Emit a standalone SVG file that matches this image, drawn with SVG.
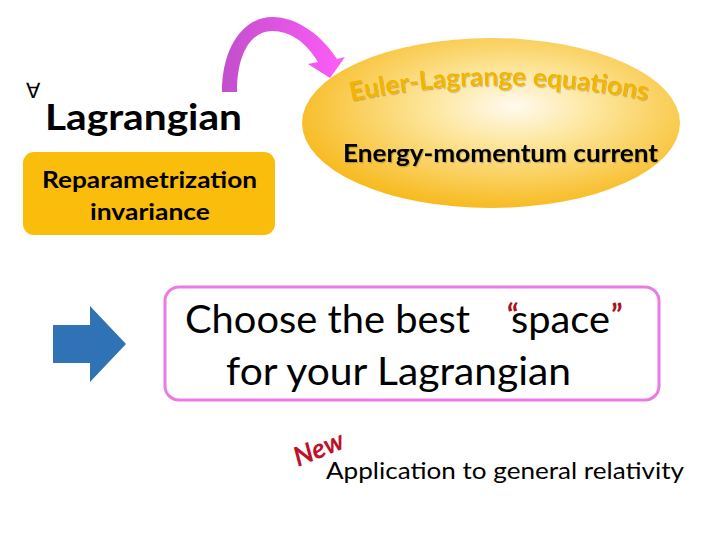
<svg xmlns="http://www.w3.org/2000/svg" width="720" height="540" viewBox="0 0 720 540">
<style>
.t{font-family:Lato,"Open Sans","Liberation Sans",sans-serif;fill:#000}
.b{font-weight:bold}
</style>
<defs>
<radialGradient id="eg" cx="0.55" cy="0.42" r="0.6" fx="0.56" fy="0.4">
<stop offset="0" stop-color="#fffaf0"/>
<stop offset="0.35" stop-color="#fde7a0"/>
<stop offset="1" stop-color="#f7b91c"/>
</radialGradient>
<linearGradient id="ag" x1="0" y1="0" x2="1" y2="0">
<stop offset="0" stop-color="#c24fcc"/>
<stop offset="1" stop-color="#ff5cf8"/>
</linearGradient>
<filter id="sh" x="-5%" y="-20%" width="110%" height="150%">
<feDropShadow dx="1" dy="1.2" stdDeviation="0.7" flood-color="#000" flood-opacity="0.22"/>
</filter>
<path id="arc" d="M351,101 Q500,70 650,101"/>
</defs>
<g id="ellipse-node">
<ellipse cx="491" cy="123" rx="189" ry="85" fill="url(#eg)"/>
<text class="t b" font-size="26" style="fill:#f2b400" filter="url(#sh)"><textPath href="#arc" textLength="298" lengthAdjust="spacingAndGlyphs">Euler-Lagrange equations</textPath></text>
<text class="t b" x="343" y="162" font-size="24" textLength="315" lengthAdjust="spacingAndGlyphs" filter="url(#sh)">Energy-momentum current</text>
</g>
<g id="lagrangian-node">
<text class="t" x="26" y="98" font-size="21">∀</text>
<text class="t b" x="45" y="130" font-size="37" textLength="197" lengthAdjust="spacingAndGlyphs">Lagrangian</text>
</g>
<g id="reparam-node">
<rect x="23" y="152" width="252" height="83" rx="11" fill="#fbbd0b"/>
<text class="t b" x="42" y="188" font-size="23" textLength="215" lengthAdjust="spacingAndGlyphs">Reparametrization</text>
<text class="t b" x="90" y="220" font-size="23" textLength="120" lengthAdjust="spacingAndGlyphs">invariance</text>
</g>
<g id="connectors">
<path d="M222,92 C222,45 245,17 272,17 C298,17 322,36 337,59 L345,57 L330,78 L308,64 L318,62 C306,42 290,31 272,31 C252,31 237,52 237,92 Z" fill="url(#ag)"/>
<polygon points="53,325 90,325 90,306 126,344 90,382 90,363 53,363" fill="#2f72b6"/>
</g>
<g id="space-node">
<rect x="165" y="287" width="494" height="113" rx="14" fill="#fff" stroke="#e97be6" stroke-width="3"/>
<text class="t" x="185" y="333" font-size="39" textLength="285" lengthAdjust="spacingAndGlyphs">Choose the best</text>
<text class="t" x="511" y="333" font-size="39" textLength="99" lengthAdjust="spacingAndGlyphs">space</text>
<text class="t b" x="507" y="326" font-size="30" style="fill:#a8141c">“</text>
<text class="t b" x="611" y="326" font-size="30" style="fill:#a8141c">”</text>
<text class="t" x="226" y="385" font-size="39" textLength="345" lengthAdjust="spacingAndGlyphs">for your Lagrangian</text>
</g>
<g id="gr-node">
<text class="t b" font-size="27" font-style="italic" style="fill:#c0102a" transform="translate(298,467) rotate(-22)" textLength="52" lengthAdjust="spacingAndGlyphs">New</text>
<text class="t" x="326" y="479" font-size="23" textLength="358" lengthAdjust="spacingAndGlyphs">Application to general relativity</text>
</g>
</svg>
